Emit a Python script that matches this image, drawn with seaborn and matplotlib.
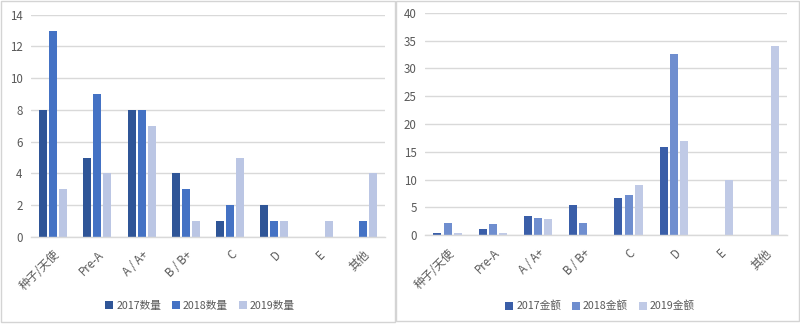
import matplotlib
matplotlib.use("Agg")
import matplotlib.pyplot as plt
import seaborn as sns
import pandas as pd
from matplotlib.patches import Rectangle

sns.set_theme(style="white")
plt.rcParams['font.family'] = ['Noto Sans CJK SC', 'DejaVu Sans']

categories = ["种子/天使", "Pre-A", "A / A+", "B / B+", "C", "D", "E", "其他"]

count_2017 = [8, 5, 8, 4, 1, 2, 0, 0]
count_2018 = [13, 9, 8, 3, 2, 1, 0, 1]
count_2019 = [3, 4, 7, 1, 5, 1, 1, 4]
count_labels = ["2017数量", "2018数量", "2019数量"]

amount_2017 = [0.4, 1.2, 3.5, 5.5, 6.7, 15.9, 0, 0]
amount_2018 = [2.2, 2.0, 3.1, 2.2, 7.2, 32.5, 0, 0]
amount_2019 = [0.4, 0.4, 2.9, 0, 9.1, 17.0, 10.0, 34.0]
amount_labels = ["2017金额", "2018金额", "2019金额"]

left_colors = ["#2F5597", "#4472C4", "#BBC6E4"]
right_colors = ["#3A5EA8", "#6F8ECF", "#C0CAE6"]


def long_df(series, labels):
    rows = []
    for vals, lab in zip(series, labels):
        for c, v in zip(categories, vals):
            rows.append({"cat": c, "val": v, "series": lab})
    return pd.DataFrame(rows)


fig = plt.figure(figsize=(8.0, 3.24), dpi=100)

# panel borders
fig.patches.append(Rectangle((0.5 / 800, 1 - 322 / 324), 394 / 800, 321 / 324,
                             transform=fig.transFigure, fill=False,
                             edgecolor="#D4D4D4", linewidth=1.0))
fig.patches.append(Rectangle((396 / 800, 1 - 321 / 324), 403 / 800, 320.5 / 324,
                             transform=fig.transFigure, fill=False,
                             edgecolor="#D4D4D4", linewidth=1.0))

ax1 = fig.add_axes([31 / 800, 1 - 237 / 324, 354 / 800, (237 - 14.7) / 324])
ax2 = fig.add_axes([425 / 800, 1 - 235.3 / 324, 362 / 800, (235.3 - 12.7) / 324])

tick_color = "#595959"
fs = 8.3
lfs = 7.7


def draw(ax, df, colors, ymax, ystep, legend_center_x):
    sns.barplot(data=df, x="cat", y="val", hue="series", order=categories,
                palette=colors, saturation=1, width=0.68, gap=0.2, linewidth=0,
                ax=ax, legend=True, errorbar=None)
    ax.set_ylim(0, ymax)
    ax.set_xlim(-0.5, len(categories) - 0.5)
    ax.set_yticks(range(0, ymax + 1, ystep))
    ax.yaxis.grid(True, color="#D9D9D9", linewidth=1.0)
    ax.set_axisbelow(True)
    for s in ["top", "right", "left"]:
        ax.spines[s].set_visible(False)
    ax.spines["bottom"].set_color("#D9D9D9")
    ax.spines["bottom"].set_linewidth(1.0)
    ax.set_xlabel("")
    ax.set_ylabel("")
    ax.tick_params(axis="both", length=0, colors=tick_color, labelsize=fs)
    ax.tick_params(axis="y", pad=6)
    ax.set_xticks(range(len(categories)))
    ax.set_xticklabels(categories, rotation=45, ha="right",
                       rotation_mode="anchor", color=tick_color, fontsize=fs)
    ax.tick_params(axis="x", pad=8)
    h, l = ax.get_legend_handles_labels()
    ax.legend_.remove()
    fig.legend(h, l, loc="center", bbox_to_anchor=(legend_center_x, 1 - 306 / 324),
               ncol=3, frameon=False, fontsize=lfs, handlelength=0.75,
               handleheight=0.75, handletextpad=0.3, columnspacing=1.0,
               labelcolor=tick_color)


draw(ax1, long_df([count_2017, count_2018, count_2019], count_labels),
     left_colors, 14, 2, 200 / 800)
draw(ax2, long_df([amount_2017, amount_2018, amount_2019], amount_labels),
     right_colors, 40, 5, 600 / 800)

fig.savefig("out.png", dpi=100)
